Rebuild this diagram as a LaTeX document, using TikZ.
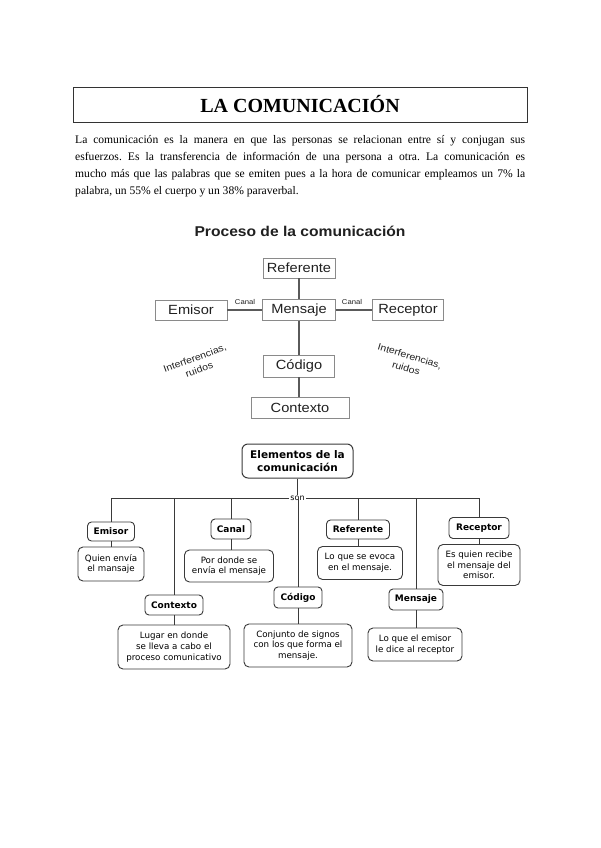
\documentclass[tikz,border=0pt]{standalone}
\usepackage{fontspec}
\setmainfont{Liberation Serif}
\newfontfamily\arialx[FakeStretch=1.1]{Liberation Sans}
\newfontfamily\verd{DejaVu Sans}
\definecolor{boxgray}{HTML}{8A8A8A}
\definecolor{txtdark}{HTML}{202020}
\definecolor{lngray}{HTML}{5A5A5A}
\definecolor{dgray}{HTML}{3A3A3A}
\frenchspacing
\begin{document}
\begin{tikzpicture}[x=1pt,y=-1pt,
  tbox/.style={draw=boxgray, line width=0.7pt, inner sep=0pt, text=txtdark,
     font=\arialx\fontsize{13.3}{15}\selectfont},
  tline/.style={draw=lngray, line width=1.1pt},
  smallcanal/.style={inner sep=0pt, text=txtdark, font=\arialx\fontsize{7}{8}\selectfont},
  interf/.style={inner sep=0pt, text=txtdark, align=center, font=\arialx\fontsize{9.5}{12.5}\selectfont},
  lbl/.style={draw=dgray, line width=0.9pt, rounded corners=4pt, inner sep=0pt, text=black,
     font=\verd\bfseries\fontsize{9}{10}\selectfont},
  dbox/.style={draw=dgray, line width=0.9pt, rounded corners=5pt, inner sep=0pt, align=center, text=black,
     font=\verd\fontsize{8.7}{10.6}\selectfont},
  bline/.style={draw=dgray, line width=1pt},
  ptext/.style={anchor=base west, inner sep=0pt, font=\frenchspacing\fontsize{11.6}{13}\selectfont}
]
\useasboundingbox[fill=white] (0,0) rectangle (600,848);

% Title
\node[draw=black!80, line width=0.8pt, minimum width=454pt, minimum height=35pt, inner sep=0pt,
      font=\bfseries\fontsize{20}{22}\selectfont] (title) at (300,104.5) {LA COMUNICACIÓN};

% Paragraph
\node[ptext] (p1) at (75,143.5) {\makebox[450pt][s]{La comunicación es la manera en que las personas se relacionan entre sí y conjugan sus}};
\node[ptext] (p2) at (75,160.5) {\makebox[450pt][s]{esfuerzos. Es la transferencia de información de una persona a otra. La comunicación es}};
\node[ptext] (p3) at (75,177.5) {\makebox[450pt][s]{mucho más que las palabras que se emiten pues a la hora de comunicar empleamos un 7\% la}};
\node[ptext] (p4) at (75,194.5) {palabra, un 55\% el cuerpo y un 38\% paraverbal.};

% Proceso de la comunicacion
\node[inner sep=0pt, text=txtdark, font=\arialx\bfseries\fontsize{14.2}{16}\selectfont] (proc) at (300,231) {Proceso de la comunicación};

\node[tbox, minimum width=72pt, minimum height=20pt] (ref) at (299,268) {Referente};
\node[tbox, minimum width=72pt, minimum height=20pt] (emi) at (191,310) {Emisor};
\node[tbox, minimum width=73pt, minimum height=21pt] (men) at (299,310) {Mensaje};
\node[tbox, minimum width=71pt, minimum height=21pt] (rec) at (408,310) {Receptor};
\node[tbox, minimum width=71pt, minimum height=22pt] (cod) at (299,366) {Código};
\node[tbox, minimum width=98pt, minimum height=21pt] (ctx) at (300,408) {Contexto};

\draw[tline] (ref) -- (men);
\draw[tline] (emi) -- (men);
\draw[tline] (men) -- (rec);
\draw[tline] (men.south) -- (cod.north);
\draw[tline] (cod.south) -- (cod.south |- ctx.north);

\node[smallcanal] (c1) at (245,302) {Canal};
\node[smallcanal] (c2) at (352,302) {Canal};

\node[interf, rotate=20] (if1) at (197,364) {Interferencias,\\ruidos};
\node[interf, rotate=-17] (if2) at (408,362) {Interferencias,\\ruidos};

% Elementos de la comunicacion
\node[draw=dgray, line width=1pt, rounded corners=6pt, minimum width=111pt, minimum height=34pt, inner sep=0pt,
      align=center, font=\verd\bfseries\fontsize{10.5}{13}\selectfont] (elem) at (297.5,461) {Elementos de la\\comunicación};
\node[inner sep=1.5pt, font=\verd\fontsize{8}{9}\selectfont] (son) at (297.5,498.5) {son};

\node[lbl, minimum width=47pt, minimum height=19pt] (bemi) at (111,531.5) {Emisor};
\node[dbox, minimum width=66pt, minimum height=34pt] (demi) at (111,564) {Quien envía\\el mansaje};

\node[lbl, minimum width=58pt, minimum height=20pt] (bctx) at (174,605) {Contexto};
\node[dbox, minimum width=112pt, minimum height=44pt] (dctx) at (174,647) {Lugar en donde\\se lleva a cabo el\\proceso comunicativo};

\node[lbl, minimum width=40pt, minimum height=20pt] (bcan) at (231,529) {Canal};
\node[dbox, minimum width=89pt, minimum height=32pt] (dcan) at (229,566) {Por donde se\\envía el mensaje};

\node[lbl, minimum width=48pt, minimum height=21pt] (bcod) at (298,597.5) {Código};
\node[dbox, minimum width=108pt, minimum height=43pt] (dcod) at (298,645.5) {Conjunto de signos\\con los que forma el\\mensaje.};

\node[lbl, minimum width=63pt, minimum height=19pt] (bref) at (358,529.5) {Referente};
\node[dbox, minimum width=85pt, minimum height=33pt] (dref) at (360,563) {Lo que se evoca\\en el mensaje.};

\node[lbl, minimum width=54pt, minimum height=21pt] (bmen) at (416,599.5) {Mensaje};
\node[dbox, minimum width=94pt, minimum height=33pt] (dmen) at (415,644.5) {Lo que el emisor\\le dice al receptor};

\node[lbl, minimum width=60pt, minimum height=21pt] (brec) at (479,528) {Receptor};
\node[dbox, minimum width=82pt, minimum height=41pt] (drec) at (479,565) {Es quien recibe\\el mensaje del\\emisor.};

\draw[bline] (elem) -- (son);
\draw[bline] (bemi.north) |- (son.west);
\draw[bline] (brec.north) |- (son.east);
\draw[bline] (bctx.north) -- (bctx.north |- son.center);
\draw[bline] (bcan.north) -- (bcan.north |- son.center);
\draw[bline] (bcod.north) -- (bcod.north |- son.center);
\draw[bline] (bref.north) -- (bref.north |- son.center);
\draw[bline] (bmen.north) -- (bmen.north |- son.center);

\draw[bline] (bemi.south) -- (bemi.south |- demi.north);
\draw[bline] (bctx.south) -- (bctx.south |- dctx.north);
\draw[bline] (bcan.south) -- (bcan.south |- dcan.north);
\draw[bline] (bcod.south) -- (bcod.south |- dcod.north);
\draw[bline] (bref.south) -- (bref.south |- dref.north);
\draw[bline] (bmen.south) -- (bmen.south |- dmen.north);
\draw[bline] (brec.south) -- (brec.south |- drec.north);
\end{tikzpicture}
\end{document}
